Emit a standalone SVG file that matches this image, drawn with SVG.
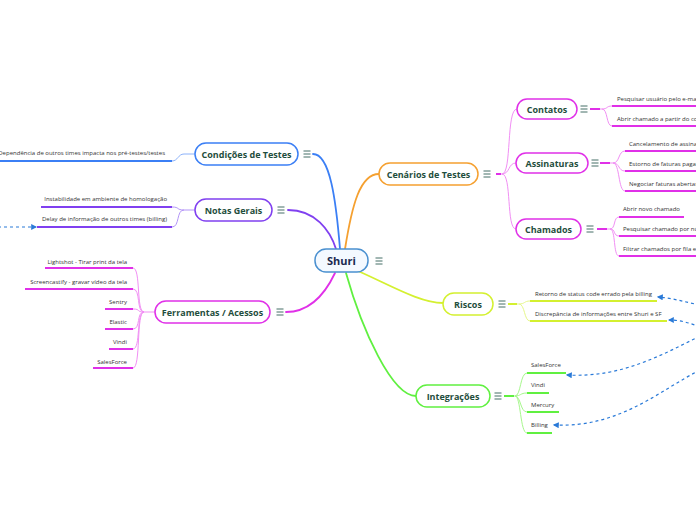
<svg xmlns="http://www.w3.org/2000/svg" width="696" height="520" viewBox="0 0 696 520">
<defs>
<style>
.node{fill:#fff;stroke-width:1.5}
.lbl{font-family:"Open Sans","DejaVu Sans",sans-serif;font-weight:bold;font-size:9px;fill:#1f4e3d;text-anchor:middle;dominant-baseline:central}
.sub{font-family:"Open Sans","DejaVu Sans",sans-serif;font-size:6px;fill:#333}
.end{text-anchor:end}
.ul{fill:none;stroke-width:2}
.thin{fill:none;stroke-width:1}
.main{fill:none;stroke-width:1.8;stroke-linecap:round}
.rel{fill:none;stroke:#2a7ad8;stroke-width:1.2;stroke-dasharray:3 3;marker-end:url(#ah)}
.menu{stroke:#2f5d55;stroke-width:0.9}
</style>
<marker id="ah" viewBox="0 0 10 10" refX="8" refY="5" markerWidth="6" markerHeight="6" orient="auto-start-reverse" markerUnits="userSpaceOnUse">
<path d="M0,0 L10,5 L0,10 Z" fill="#2a7ad8"/>
</marker>
<symbol id="mn" viewBox="0 0 8 8" overflow="visible">
<path class="menu" d="M0.5,1 H7.5 M0.5,4 H7.5 M0.5,7 H7.5"/>
</symbol>
</defs>

<g id="connectors">
<path class="main" stroke="#3b7ff5" d="M313,154 C330,154 336,200 340,249"/>
<path class="main" stroke="#8040f0" d="M288,210 C315,210 330,230 336,249"/>
<path class="main" stroke="#e030e8" d="M286,312 C312,312 326,292 335,273"/>
<path class="main" stroke="#f5a030" d="M379,174 C360,174 352,205 345,249"/>
<path class="main" stroke="#d4f030" d="M358,271 C390,285 420,303 443,303"/>
<path class="main" stroke="#60f040" d="M346,273 C362,330 392,396 416,396"/>

<path class="thin" stroke="#8cb2fa" d="M195,154 H184 C178,154 178,161 172,161"/>
<path class="ul" stroke="#3b7ff5" d="M0,161 H172"/>
<path class="thin" stroke="#b395f7" d="M195,210 H184 C176,210 180,207 172,207 M184,210 C176,210 180,227 172,227"/>
<path class="ul" stroke="#8040f0" d="M41,207 H172 M37,227 H172"/>
<path class="thin" stroke="#f18ff4" d="M155,312 H144 C136,312 141,268 133,268 M144,312 C136,312 141,289 133,289 M144,312 C136,312 141,309 133,309 M144,312 C136,312 141,329 133,329 M144,312 C136,312 141,349 133,349 M144,312 C136,312 141,368 133,368"/>
<path class="ul" stroke="#e030e8" d="M45,268 H133 M25,289 H133 M105,309 H133 M105,329 H133 M109,349 H133 M93,368 H133"/>
<path class="thin" stroke="#f18ff4" d="M496,174 H502 C512,174 506,109 517,109 M502,174 C510,174 508,163 516,163 M502,174 C512,174 506,229 516,229"/>
<path class="ul" stroke="#e030e8" d="M496,174 H501"/>
<path class="thin" stroke="#f18ff4" d="M590,109 H602 C608,109 606,106 612,106 M602,109 C608,109 606,126 612,126"/>
<path class="ul" stroke="#e030e8" d="M590,109 H600 M612,106 H700 M612,126 H700"/>
<path class="thin" stroke="#f18ff4" d="M600,163 H613 C620,163 618,151 625,151 M613,163 C620,163 618,171 625,171 M613,163 C620,163 618,191 625,191"/>
<path class="ul" stroke="#e030e8" d="M600,163 H610 M625,151 H700 M625,171 H700 M625,191 H700"/>
<path class="thin" stroke="#f18ff4" d="M597,229 H610 C616,229 613,217 619,217 M610,229 C616,229 613,236 619,236 M610,229 C616,229 613,256 619,256"/>
<path class="ul" stroke="#e030e8" d="M597,229 H607 M619,217 H684 M619,236 H700 M619,256 H700"/>
<path class="thin" stroke="#e6f78a" d="M508,304 H519 C525,304 524,301 530,301 M519,304 C525,304 524,321 530,321"/>
<path class="ul" stroke="#d4f030" d="M508,304 H517 M530,301 H657 M530,321 H667"/>
<path class="thin" stroke="#a6f78c" d="M504,396 H515 C521,396 520,373 527,373 M515,396 C521,396 520,393 527,393 M515,396 C521,396 520,412 527,412 M515,396 C521,396 520,433 527,433"/>
<path class="ul" stroke="#60f040" d="M504,396 H514 M527,373 H566 M527,393 H549 M527,412 H559 M527,433 H552"/>

<path class="rel" d="M-2,227 H36"/>
<path class="rel" d="M700,305 C685,302 672,298 658,297"/>
<path class="rel" d="M700,327 C690,323 680,320 669,320"/>
<path class="rel" d="M700,336 C660,356 620,378 567,375"/>
<path class="rel" d="M700,370 C660,390 620,428 554,425"/>
</g>

<g id="shuri">
<rect x="315" y="249" width="53" height="23" rx="11" fill="#f4f9ff" stroke="#4a90d0" stroke-width="1.5"/>
<text class="lbl" x="341.5" y="260.5" style="font-size:11px;fill:#1a2a50">Shuri</text>
<use href="#mn" x="375" y="257" width="8" height="8"/>
</g>

<g id="condicoes">
<rect class="node" x="195" y="143" width="103" height="22" rx="11" stroke="#3b7ff5"/>
<text class="lbl" x="246.5" y="154">Condições de Testes</text>
<use href="#mn" x="303" y="150" width="8" height="8"/>
<text class="sub end" x="165" y="155">Dependência de outros times impacta nos pré-testes/testes</text>
</g>

<g id="notas">
<rect class="node" x="195" y="199" width="77" height="22" rx="11" stroke="#8040f0"/>
<text class="lbl" x="233.5" y="210">Notas Gerais</text>
<use href="#mn" x="277" y="206" width="8" height="8"/>
<text class="sub end" x="167" y="201">Instabilidade em ambiente de homologação</text>
<text class="sub end" x="167" y="221">Delay de informação de outros times (billing)</text>
</g>

<g id="ferramentas">
<rect class="node" x="155" y="301" width="115" height="22" rx="11" stroke="#e030e8"/>
<text class="lbl" x="212.5" y="312">Ferramentas / Acessos</text>
<use href="#mn" x="276" y="308" width="8" height="8"/>
<text class="sub end" x="127" y="264">Lightshot - Tirar print da tela</text>
<text class="sub end" x="127" y="284">Screencastify - gravar vídeo da tela</text>
<text class="sub end" x="127" y="304">Sentry</text>
<text class="sub end" x="127" y="324">Elastic</text>
<text class="sub end" x="127" y="344">Vindi</text>
<text class="sub end" x="127" y="364">SalesForce</text>
</g>

<g id="cenarios">
<rect class="node" x="379" y="163" width="99" height="22" rx="11" stroke="#f5a030"/>
<text class="lbl" x="428.5" y="174">Cenários de Testes</text>
<use href="#mn" x="483" y="170" width="8" height="8"/>
</g>

<g id="contatos">
<rect class="node" x="517" y="99" width="60" height="20" rx="10" stroke="#e030e8"/>
<text class="lbl" x="547" y="109">Contatos</text>
<use href="#mn" x="580" y="105" width="8" height="8"/>
<text class="sub" x="617" y="101">Pesquisar usuário pelo e-mail</text>
<text class="sub" x="617" y="121">Abrir chamado a partir do contato</text>
</g>

<g id="assinaturas">
<rect class="node" x="516" y="153" width="72" height="20" rx="10" stroke="#e030e8"/>
<text class="lbl" x="552" y="163">Assinaturas</text>
<use href="#mn" x="591" y="159" width="8" height="8"/>
<text class="sub" x="629" y="146">Cancelamento de assinatura</text>
<text class="sub" x="629" y="166">Estorno de faturas pagas</text>
<text class="sub" x="629" y="186">Negociar faturas abertas</text>
</g>

<g id="chamados">
<rect class="node" x="516" y="219" width="65" height="20" rx="10" stroke="#e030e8"/>
<text class="lbl" x="548.5" y="229">Chamados</text>
<use href="#mn" x="586" y="225" width="8" height="8"/>
<text class="sub" x="623" y="211">Abrir novo chamado</text>
<text class="sub" x="623" y="231">Pesquisar chamado por número</text>
<text class="sub" x="623" y="251">Filtrar chamados por fila e status</text>
</g>

<g id="riscos">
<rect class="node" x="443" y="293" width="50" height="22" rx="11" stroke="#d4f030"/>
<text class="lbl" x="468" y="304">Riscos</text>
<use href="#mn" x="498" y="300" width="8" height="8"/>
<text class="sub" x="535" y="296">Retorno de status code errado pela billing</text>
<text class="sub" x="535" y="316">Discrepância de informações entre Shuri e SF</text>
</g>

<g id="integracoes">
<rect class="node" x="416" y="385" width="74" height="22" rx="11" stroke="#60f040"/>
<text class="lbl" x="453" y="396">Integrações</text>
<use href="#mn" x="494" y="392" width="8" height="8"/>
<text class="sub" x="531" y="367">SalesForce</text>
<text class="sub" x="531" y="387">Vindi</text>
<text class="sub" x="531" y="407">Mercury</text>
<text class="sub" x="531" y="427">Billing</text>
</g>
</svg>
